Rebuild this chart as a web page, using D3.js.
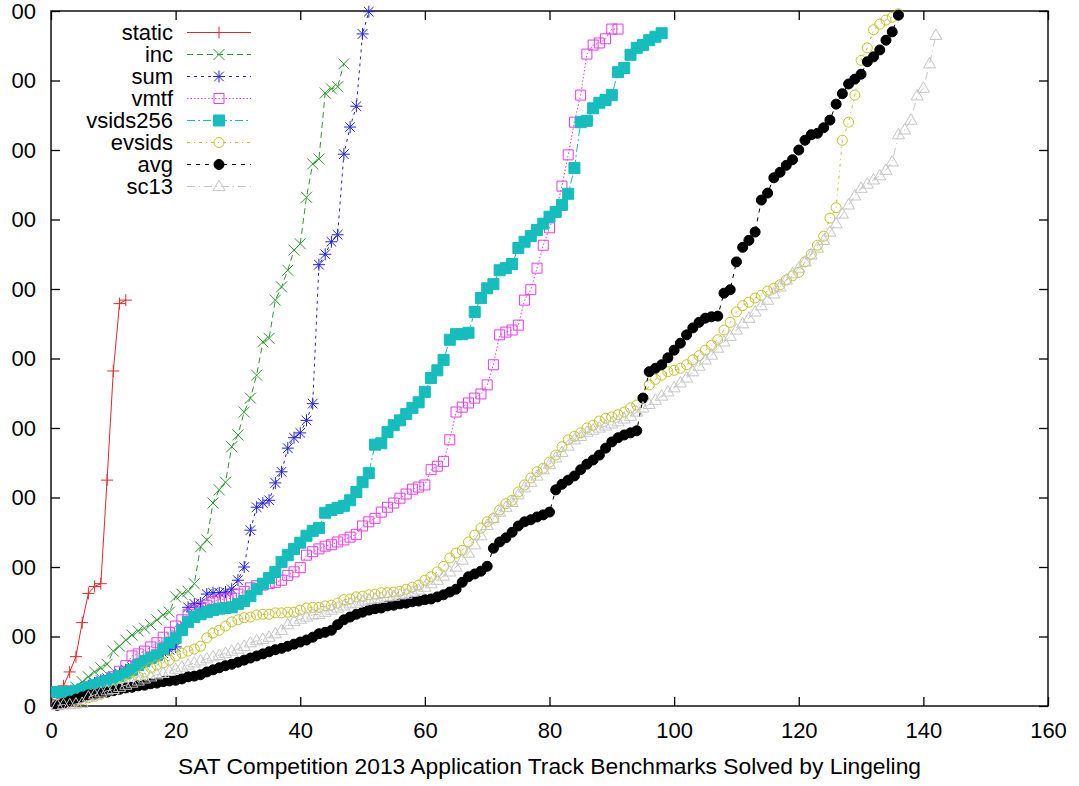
<!DOCTYPE html>
<html>
<head>
<meta charset="utf-8">
<script src="https://cdn.jsdelivr.net/npm/d3@7"></script>
<style>
  body { margin: 0; background: #fff; }
  text { font-family: "Liberation Sans", Arial, Helvetica, sans-serif; }
</style>
</head>
<body>
<div id="chart"></div>
<script>
// tick values
const xTicks = [0, 20, 40, 60, 80, 100, 120, 140, 160]
const yTicks = [0, 100, 200, 300, 400, 500, 600, 700, 800, 900, 1000]
const xTitle = "SAT Competition 2013 Application Track Benchmarks Solved by Lingeling"

// sorted run times per configuration (point i is the i-th solved benchmark)
const staticTimes = [4, 29, 49, 71, 120, 162, 172, 176, 325, 482, 579, 584]
const incTimes = [3, 12, 19, 27, 35, 42, 49, 55, 60, 79,
  86, 95, 102, 108, 112, 117, 124, 131, 135, 157,
  161, 165, 176, 229, 239, 292, 311, 322, 373, 390,
  423, 443, 476, 524, 529, 584, 603, 627, 656, 665,
  732, 780, 787, 882, 888, 891, 924]
const sumTimes = [3, 9, 13, 17, 23, 29, 33, 37, 40, 43,
  47, 52, 56, 60, 63, 68, 72, 76, 81, 85,
  112, 142, 147, 148, 161, 163, 163, 164, 168, 181,
  200, 253, 286, 292, 296, 321, 337, 371, 386, 393,
  411, 435, 635, 650, 668, 678, 794, 833, 863, 967, 999]
const vmtfTimes = [2, 4, 7, 10, 14, 19, 24, 29, 35, 42,
  50, 58, 72, 75, 79, 85, 91, 99, 106, 115,
  124, 132, 137, 142, 145, 150, 153, 154, 155, 161,
  165, 170, 173, 174, 176, 178, 181, 188, 193, 199,
  217, 222, 226, 230, 232, 236, 239, 243, 247, 259,
  265, 270, 279, 286, 292, 299, 305, 312, 315, 318,
  340, 345, 352, 383, 423, 430, 436, 443, 449, 462,
  491, 534, 538, 541, 548, 584, 599, 630, 663, 688,
  711, 748, 793, 840, 879, 938, 951, 954, 960, 974, 974]
const vsids256Times = [20, 20, 20, 22, 24, 27, 30, 33, 36, 39,
  43, 47, 52, 59, 65, 69, 73, 82, 91, 98,
  109, 121, 128, 132, 135, 138, 140, 141, 142, 147,
  151, 158, 168, 176, 184, 193, 207, 217, 226, 235,
  245, 252, 256, 278, 282, 285, 288, 296, 308, 322,
  335, 376, 378, 394, 404, 411, 420, 429, 437, 452,
  472, 483, 498, 527, 535, 535, 537, 567, 587, 601,
  607, 627, 630, 636, 659, 668, 676, 685, 694, 704,
  711, 721, 737, 774, 840, 842, 860, 868, 872, 879,
  912, 918, 937, 947, 951, 958, 963, 968]
const evsidsTimes = [3, 4, 6, 7, 9, 12, 14, 17, 20, 23,
  27, 32, 36, 42, 49, 55, 59, 62, 66, 72,
  76, 79, 82, 86, 98, 105, 109, 115, 121, 124,
  127, 128, 131, 132, 132, 134, 134, 135, 135, 138,
  141, 142, 142, 144, 145, 148, 153, 154, 157, 158,
  160, 161, 163, 163, 164, 165, 168, 171, 174, 181,
  186, 193, 201, 213, 220, 224, 236, 246, 256, 265,
  270, 282, 291, 296, 308, 318, 328, 337, 342, 351,
  361, 373, 383, 388, 393, 400, 404, 410, 414, 416,
  419, 423, 429, 433, 443, 462, 470, 476, 481, 483,
  486, 491, 498, 504, 512, 519, 527, 541, 552, 567,
  576, 581, 587, 591, 597, 601, 606, 613, 619, 624,
  639, 650, 663, 676, 702, 717, 814, 840, 879, 929,
  947, 973, 981, 987, 991, 996]
const avgTimes = [1, 4, 7, 10, 13, 16, 17, 19, 20, 22,
  24, 26, 27, 29, 30, 32, 33, 35, 36, 37,
  39, 42, 43, 45, 49, 52, 55, 58, 60, 63,
  66, 69, 72, 75, 78, 81, 83, 86, 89, 92,
  95, 99, 104, 106, 109, 117, 124, 128, 132, 135,
  138, 140, 141, 144, 145, 147, 148, 150, 151, 153,
  154, 157, 160, 164, 168, 178, 186, 190, 194, 201,
  227, 236, 242, 250, 259, 265, 268, 272, 275, 279,
  311, 319, 325, 331, 340, 348, 354, 361, 371, 380,
  386, 390, 393, 396, 443, 481, 486, 491, 501, 512,
  522, 534, 544, 552, 558, 560, 561, 594, 599, 639,
  660, 670, 682, 728, 738, 760, 768, 778, 786, 800,
  814, 822, 824, 832, 843, 866, 881, 895, 902, 909,
  927, 934, 944, 958, 970, 994]
const sc13Times = [1, 2, 2, 3, 4, 13, 16, 19, 22, 24,
  27, 30, 33, 36, 39, 42, 45, 47, 50, 53,
  56, 59, 62, 65, 68, 71, 73, 76, 79, 82,
  86, 91, 94, 96, 99, 104, 109, 117, 122, 125,
  128, 131, 132, 135, 138, 141, 144, 147, 148, 151,
  153, 154, 155, 157, 158, 160, 161, 164, 167, 171,
  176, 181, 187, 193, 200, 210, 220, 232, 245, 260,
  270, 279, 286, 293, 304, 314, 322, 331, 340, 348,
  357, 365, 374, 383, 388, 394, 397, 400, 403, 406,
  409, 413, 417, 423, 429, 434, 440, 446, 452, 458,
  465, 472, 481, 489, 498, 505, 515, 524, 532, 541,
  550, 558, 567, 576, 584, 593, 603, 613, 622, 630,
  639, 649, 659, 670, 682, 694, 708, 721, 734, 745,
  751, 757, 763, 771, 783, 822, 829, 843, 878, 889,
  924, 965]

const seriesNames = ["static", "inc", "sum", "vmtf", "vsids256", "evsids", "avg", "sc13"]
const seriesData = [staticTimes, incTimes, sumTimes, vmtfTimes, vsids256Times, evsidsTimes, avgTimes, sc13Times]

// gnuplot-like line types
const styles = {
  static:   { color: '#e5262a', dash: null,          marker: 'plus',     filled: false, size: 6 },
  inc:      { color: '#2f9a2f', dash: '6,4',         marker: 'cross',    filled: false, size: 5.5 },
  sum:      { color: '#2222e8', dash: '3,4',         marker: 'star',     filled: false, size: 6 },
  vmtf:     { color: '#e83ae8', dash: '1.5,2',       marker: 'square',   filled: false, size: 5 },
  vsids256: { color: '#15bdbd', dash: '8,3,2,3',     marker: 'square',   filled: true,  size: 5.5 },
  evsids:   { color: '#c3c32a', dash: '3,4,1,4',     marker: 'circle',   filled: false, size: 5 },
  avg:      { color: '#000000', dash: '4,5',         marker: 'circle',   filled: true,  size: 5 },
  sc13:     { color: '#c6c6c6', dash: '8,4,1,4',     marker: 'triangle', filled: false, size: 5.5 }
}

const width = 1079, height = 786
const plotLeft = 51, plotRight = 1048, plotTop = 11, plotBottom = 706
const fontSize = 22
const tickLen = 9

var x = d3.scaleLinear().domain([0, 160]).range([plotLeft, plotRight])
var y = d3.scaleLinear().domain([0, 1000]).range([plotBottom, plotTop])

var svg = d3.select('#chart').append('svg')
  .attr('width', width)
  .attr('height', height)

svg.append('rect').attr('width', width).attr('height', height).attr('fill', '#fff')

function markerPath(type, s) {
  switch (type) {
    case 'plus': return `M${-s},0H${s}M0,${-s}V${s}`
    case 'cross': return `M${-s},${-s}L${s},${s}M${-s},${s}L${s},${-s}`
    case 'star': return `M${-s},0H${s}M0,${-s}V${s}M${-s * 0.8},${-s * 0.8}L${s * 0.8},${s * 0.8}M${-s * 0.8},${s * 0.8}L${s * 0.8},${-s * 0.8}`
    case 'square': return `M${-s},${-s}H${s}V${s}H${-s}Z`
    case 'circle': return `M${s},0A${s},${s} 0 1,1 ${-s},0A${s},${s} 0 1,1 ${s},0Z`
    case 'triangle': return `M0,${-s * 1.15}L${s * 1.1},${s * 0.75}L${-s * 1.1},${s * 0.75}Z`
  }
}

// clip for the series so nothing leaks past the frame
svg.append('clipPath').attr('id', 'plotClip')
  .append('rect')
  .attr('x', plotLeft).attr('y', plotTop - 8)
  .attr('width', plotRight - plotLeft).attr('height', plotBottom - plotTop + 16)

// the y labels of the source are cut at the left edge of the picture
svg.append('clipPath').attr('id', 'labelClip')
  .append('rect')
  .attr('x', 12).attr('y', 0)
  .attr('width', width).attr('height', height)

function drawAxes() {
  svg.append('g')
    .attr('transform', `translate(0,${plotBottom})`)
    .call(d3.axisBottom(x).tickValues(xTicks).tickSizeInner(-tickLen).tickSizeOuter(0).tickPadding(16))
  svg.append('g')
    .attr('transform', `translate(0,${plotTop})`)
    .call(d3.axisTop(x).tickValues(xTicks).tickSizeInner(-tickLen).tickSizeOuter(0).tickFormat(''))
  svg.append('g').attr('clip-path', 'url(#labelClip)')
    .append('g')
    .attr('transform', `translate(${plotLeft},0)`)
    .call(d3.axisLeft(y).tickValues(yTicks).tickSizeInner(-tickLen).tickSizeOuter(0).tickPadding(15))
  svg.append('g')
    .attr('transform', `translate(${plotRight},0)`)
    .call(d3.axisRight(y).tickValues(yTicks).tickSizeInner(-tickLen).tickSizeOuter(0).tickFormat(''))

  svg.selectAll('.domain').remove()
  svg.selectAll('.tick line').attr('stroke', '#000').attr('stroke-width', 1.3)
  svg.selectAll('.tick text')
    .attr('fill', '#000')
    .style('font-size', fontSize + 'px')
    .style('font-family', '"Liberation Sans", Arial, Helvetica, sans-serif')

  svg.append('rect')
    .attr('x', plotLeft).attr('y', plotTop)
    .attr('width', plotRight - plotLeft).attr('height', plotBottom - plotTop)
    .attr('fill', 'none')
    .attr('stroke', '#000')
    .attr('stroke-width', 1.4)

  svg.append('text')
    .attr('x', (plotLeft + plotRight) / 2)
    .attr('y', 774)
    .attr('text-anchor', 'middle')
    .style('font-size', '22.8px')
    .text(xTitle)
}

function drawSeries() {
  var lineGenerator = d3.line()
    .x(function (d, i) { return x(i + 1) })
    .y(function (d) { return y(d) })

  var plot = svg.append('g').attr('clip-path', 'url(#plotClip)')

  seriesNames.forEach(function (name, k) {
    var st = styles[name]
    var data = seriesData[k]
    var g = plot.append('g').attr('class', 'series-' + name)

    g.append('path')
      .datum(data)
      .attr('d', lineGenerator)
      .attr('fill', 'none')
      .attr('stroke', st.color)
      .attr('stroke-width', 1)
      .attr('stroke-dasharray', st.dash)

    g.selectAll('path.mark')
      .data(data)
      .enter().append('path')
      .attr('class', 'mark')
      .attr('transform', function (d, i) { return `translate(${x(i + 1)},${y(d)})` })
      .attr('d', markerPath(st.marker, st.size))
      .attr('fill', st.filled ? st.color : 'none')
      .attr('stroke', st.color)
      .attr('stroke-width', 1)
  })
}

function drawLegend() {
  var legend = svg.append('g')
  var textRight = 173, lineStart = 187, lineEnd = 251, firstRow = 32.5, rowGap = 22

  seriesNames.forEach(function (name, k) {
    var st = styles[name]
    var rowY = firstRow + rowGap * k
    legend.append('text')
      .attr('x', textRight)
      .attr('y', rowY)
      .attr('dy', '0.35em')
      .attr('text-anchor', 'end')
      .style('font-size', fontSize + 'px')
      .text(name)
    legend.append('line')
      .attr('x1', lineStart).attr('x2', lineEnd)
      .attr('y1', rowY).attr('y2', rowY)
      .attr('stroke', st.color)
      .attr('stroke-width', 1)
      .attr('stroke-dasharray', st.dash)
    legend.append('path')
      .attr('transform', `translate(${(lineStart + lineEnd) / 2},${rowY})`)
      .attr('d', markerPath(st.marker, st.size))
      .attr('fill', st.filled ? st.color : 'none')
      .attr('stroke', st.color)
      .attr('stroke-width', 1)
  })
}

drawAxes()
drawSeries()
drawLegend()
</script>
</body>
</html>
